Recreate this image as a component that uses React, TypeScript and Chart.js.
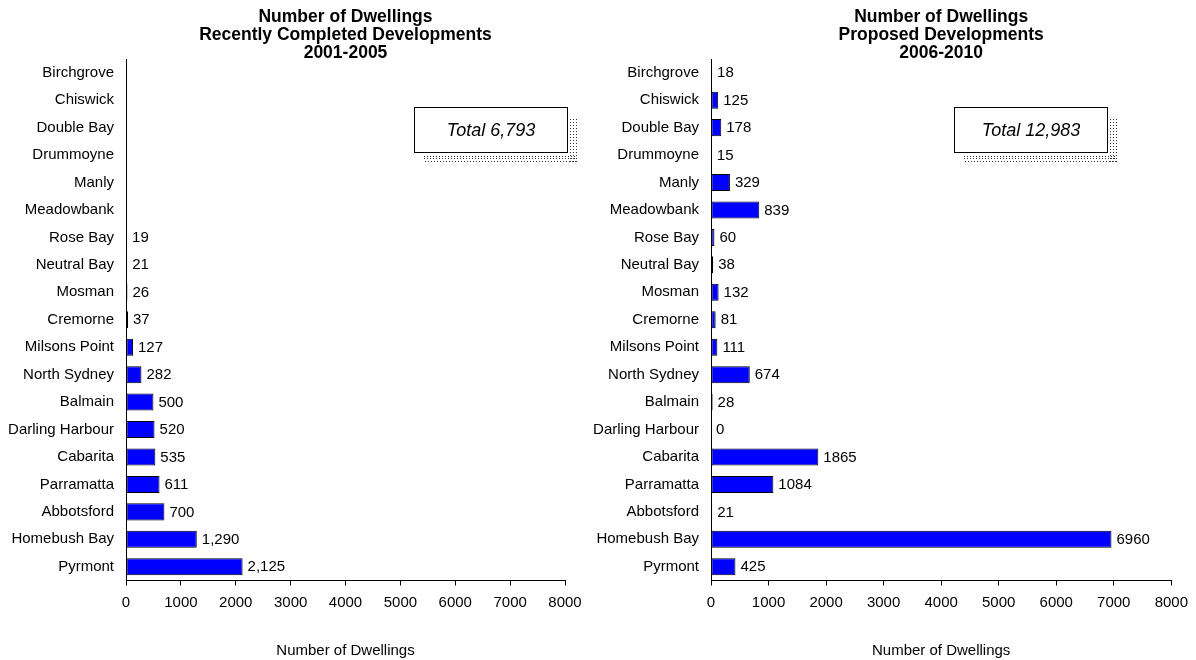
import React, { useEffect, useRef } from "react";
import { Chart, registerables } from "chart.js";

Chart.register(...registerables);

// ---------- data ----------
const suburbsCompleted = [
  "Birchgrove", "Chiswick", "Double Bay", "Drummoyne", "Manly", "Meadowbank",
  "Rose Bay", "Neutral Bay", "Mosman", "Cremorne", "Milsons Point", "North Sydney",
  "Balmain", "Darling Harbour", "Cabarita", "Parramatta", "Abbotsford",
  "Homebush Bay", "Pyrmont",
];
const dwellingsCompleted: (number | null)[] = [
  null, null, null, null, null, null,
  19, 21, 26, 37, 127, 282,
  500, 520, 535, 611, 700,
  1290, 2125,
];

const suburbsProposed = [
  "Birchgrove", "Chiswick", "Double Bay", "Drummoyne", "Manly", "Meadowbank",
  "Rose Bay", "Neutral Bay", "Mosman", "Cremorne", "Milsons Point", "North Sydney",
  "Balmain", "Darling Harbour", "Cabarita", "Parramatta", "Abbotsford",
  "Homebush Bay", "Pyrmont",
];
const dwellingsProposed: (number | null)[] = [
  18, 125, 178, 15, 329, 839,
  60, 38, 132, 81, 111, 674,
  28, 0, 1865, 1084, 21,
  6960, 425,
];

const titleCompleted = ["Number of Dwellings", "Recently Completed Developments", "2001-2005"];
const titleProposed = ["Number of Dwellings", "Proposed Developments", "2006-2010"];
const xAxisTitle = "Number of Dwellings";
const xTickValues = [0, 1000, 2000, 3000, 4000, 5000, 6000, 7000, 8000];
const totalPrefix = "Total";

// ---------- styling ----------
const FONT = "'Liberation Sans', Arial, Helvetica, sans-serif";
const BAR_BLUE = "#0000FF";

type PanelProps = {
  labels: string[];
  values: (number | null)[];
  title: string[];
  withCommas: boolean;
  canvasWidth: number;
  padRight: number;
  box: { x: number; y: number; w: number; h: number };
};

function sumValues(vals: (number | null)[]) {
  return vals.reduce((a: number, v) => a + (v ?? 0), 0);
}

function Panel(props: PanelProps) {
  const ref = useRef<HTMLCanvasElement | null>(null);

  useEffect(() => {
    const canvas = ref.current;
    if (!canvas) return;
    const { labels, values, title, withCommas, padRight, box } = props;
    const fmt = (v: number) => (withCommas ? v.toLocaleString("en-US") : String(v));
    const totalText = `${totalPrefix} ${sumValues(values).toLocaleString("en-US")}`;

    const valueLabels = {
      id: "valueLabels",
      afterDatasetsDraw(chart: any) {
        const ctx = chart.ctx;
        const meta = chart.getDatasetMeta(0);
        ctx.save();
        ctx.font = `15px ${FONT}`;
        ctx.fillStyle = "#000";
        ctx.textAlign = "left";
        ctx.textBaseline = "middle";
        meta.data.forEach((el: any, i: number) => {
          const v = values[i];
          if (v == null || !isFinite(el.x) || !isFinite(el.y)) return;
          ctx.fillText(fmt(v), el.x + 5, el.y + 0.5);
        });
        ctx.restore();
      },
    };

    const totalBox = {
      id: "totalBox",
      afterDraw(chart: any) {
        const ctx = chart.ctx;
        const { x, y, w, h } = box;
        ctx.save();
        // dotted drop shadow (dotted lines on the right and below)
        ctx.fillStyle = "#333";
        for (const cx of [x + w + 3, x + w + 6, x + w + 9]) {
          for (let yy = y + 12; yy <= y + h + 10; yy += 3) ctx.fillRect(cx, yy, 1, 1);
        }
        for (const cy of [y + h + 4, y + h + 6, y + h + 9]) {
          for (let xx = x + 10 + (cy % 2); xx <= x + w + 9; xx += 3) ctx.fillRect(xx, cy, 1, 1);
        }
        // box
        ctx.fillStyle = "#fff";
        ctx.fillRect(x, y, w, h);
        ctx.strokeStyle = "#000";
        ctx.lineWidth = 1;
        ctx.strokeRect(x + 0.5, y + 0.5, w, h);
        ctx.fillStyle = "#000";
        ctx.font = `italic 18px ${FONT}`;
        ctx.textAlign = "center";
        ctx.textBaseline = "middle";
        ctx.fillText(totalText, x + w / 2 + 0.5, y + h / 2 + 1);
        ctx.restore();
      },
    };

    const chart = new Chart(canvas, {
      type: "bar",
      data: {
        labels,
        datasets: [
          {
            data: values as any,
            backgroundColor: BAR_BLUE,
            borderColor: "#000",
            borderWidth: 1,
            borderSkipped: false,
            barPercentage: 0.62,
            categoryPercentage: 1,
          },
        ],
      },
      options: {
        indexAxis: "y",
        responsive: false,
        animation: false,
        layout: { padding: { left: 0, right: padRight, top: 0, bottom: 0 } },
        plugins: {
          legend: { display: false },
          tooltip: { enabled: false },
          title: {
            display: true,
            fullSize: false,
            text: title,
            color: "#000",
            font: { family: FONT, size: 17.5, weight: "bold", lineHeight: "18px" as any },
            padding: { top: 8, bottom: -3 },
          },
        },
        scales: {
          y: {
            type: "category",
            offset: true,
            grid: { display: false, drawTicks: false },
            border: { display: true, color: "#000", width: 1 },
            ticks: { color: "#000", font: { family: FONT, size: 15 }, padding: 12, autoSkip: false },
            afterFit: (s: any) => {
              s.width = 126;
            },
          },
          x: {
            type: "linear",
            min: xTickValues[0],
            max: xTickValues[xTickValues.length - 1],
            afterBuildTicks: (s: any) => {
              s.ticks = xTickValues.map((v) => ({ value: v }));
            },
            grid: { display: true, drawOnChartArea: false, drawTicks: true, tickLength: 5, color: "#000" },
            border: { display: true, color: "#000", width: 1 },
            ticks: {
              color: "#000",
              font: { family: FONT, size: 15 },
              padding: 8,
              maxRotation: 0,
              autoSkip: false,
              callback: (v: any) => String(v),
            },
            title: {
              display: true,
              text: xAxisTitle,
              color: "#000",
              font: { family: FONT, size: 15, lineHeight: 1.2 },
              padding: { top: 0, bottom: 0 },
            },
            afterFit: (s: any) => {
              s.height = 79.5;
            },
          },
        },
      },
      plugins: [valueLabels, totalBox],
    });
    return () => chart.destroy();
  }, []);

  return <canvas ref={ref} width={props.canvasWidth} height={660} style={{ display: "block" }} />;
}

export default function App() {
  return (
    <div style={{ position: "absolute", left: 0, top: 0, width: 1196, height: 660, background: "#fff" }}>
      <div style={{ position: "absolute", left: 0, top: 0 }}>
        <Panel
          labels={suburbsCompleted}
          values={dwellingsCompleted}
          title={titleCompleted}
          withCommas={true}
          canvasWidth={600}
          padRight={35}
          box={{ x: 414, y: 107, w: 153, h: 45 }}
        />
      </div>
      <div style={{ position: "absolute", left: 585, top: 0 }}>
        <Panel
          labels={suburbsProposed}
          values={dwellingsProposed}
          title={titleProposed}
          withCommas={false}
          canvasWidth={611}
          padRight={24}
          box={{ x: 369, y: 107, w: 153, h: 45 }}
        />
      </div>
    </div>
  );
}
